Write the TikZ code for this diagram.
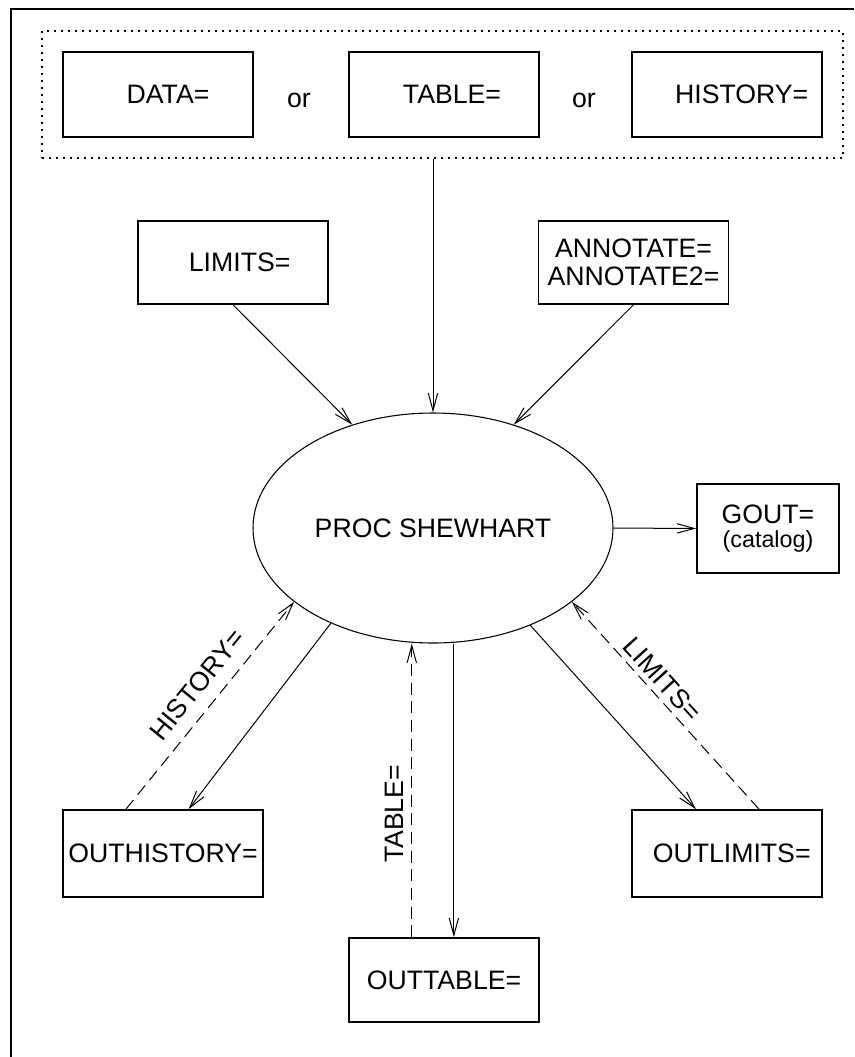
\documentclass[tikz,border=0pt]{standalone}
\usepackage{fontspec}
\setmainfont{Liberation Sans}
\usetikzlibrary{shapes.geometric,arrows.meta}

\begin{document}
\begin{tikzpicture}[x=0.75pt,y=-0.75pt,
			>={Straight Barb[length=13pt,width=7pt]},
			font=\fontsize{20}{21}\selectfont,
			param node/.style={rectangle,draw,line width=1.1pt,minimum width=142.5pt,minimum height=63.75pt,inner sep=0pt},
			proc node/.style={ellipse,draw,line width=0.8pt,minimum width=270pt,minimum height=172.5pt,inner sep=0pt},
			frame node/.style={rectangle,draw,line width=0.9pt,dash pattern=on 1.5pt off 3.75pt,minimum width=600.75pt,minimum height=95.25pt,inner sep=0pt},
			flow/.style={->,line width=0.75pt},
			back flow/.style={->,line width=0.75pt,dash pattern=on 9pt off 5pt},
			label node/.style={sloped,inner sep=2pt}
			]
			
			\useasboundingbox (0,0) rectangle (854,1057);
			\draw[line width=1pt] (11,1057) -- (11,9) -- (854,9);
			
			% input data sets
			\node[frame node] (inputs) at (442.5,94.5) {};
			\node[param node] (data) at (158,94.5) {\hspace*{0.75em}DATA=};
			\node[param node] (table) at (444,94.5) {\hspace*{0.6em}TABLE=};
			\node[param node] (history) at (727,94.5) {\hspace*{1.1em}HISTORY=};
			\foreach \x/\n in {299/or1,584/or2}
				\node[anchor=base] (\n) at (\x,107) {or};
			
			\node[param node,minimum height=62.25pt] (limits) at (233,262.5) {\hspace*{0.5em}LIMITS=};
			\node[param node,minimum height=62.25pt,align=center] (annotate) at (633.5,262.5) {ANNOTATE=\\ANNOTATE2=};
			
			\node[proc node] (proc) at (433,528) {PROC SHEWHART};
			\node[param node,minimum width=106.5pt,minimum height=66.75pt,align=center,font=\fontsize{20}{18}\selectfont] (gout) at (768,528.5) {GOUT=\\{\fontsize{17.5}{18}\selectfont (catalog)}};
			
			% output data sets
			\node[param node,minimum width=150pt,minimum height=65.25pt] (outhistory) at (163,853.5) {OUTHISTORY=};
			\node[param node,minimum height=65.25pt] (outlimits) at (727,853.5) {\hspace*{0.35em}OUTLIMITS=};
			\node[param node,minimum height=63pt] (outtable) at (444,980) {OUTTABLE=};
			
			\draw[flow] (inputs.south -| proc.north) -- (proc.north);
			\draw[flow] (limits.south) -- (proc.128);
			\draw[flow] (annotate.south) -- (proc.52);
			\draw[flow] (proc.east) -- (gout.west);
			
			\draw[flow] (proc.223.5) -- (outhistory.60);
			\draw[back flow] (outhistory.130) -- node[label node,pos=0.53,above=8pt] (histlabel) {HISTORY=} (proc.208);
			\draw[flow] (proc.south -| outtable.77) -- (outtable.77);
			\draw[back flow] (outtable.127) -- node[label node,pos=0.42,above=3.6pt] (tablabel) {TABLE=} (outtable.127 |- proc.south);
			\draw[flow] (proc.315) -- (outlimits.125);
			\draw[back flow] (outlimits.54) -- node[label node,pos=0.577,above=2pt] (limlabel) {LIMITS=} (proc.332);
\end{tikzpicture}
\end{document}
